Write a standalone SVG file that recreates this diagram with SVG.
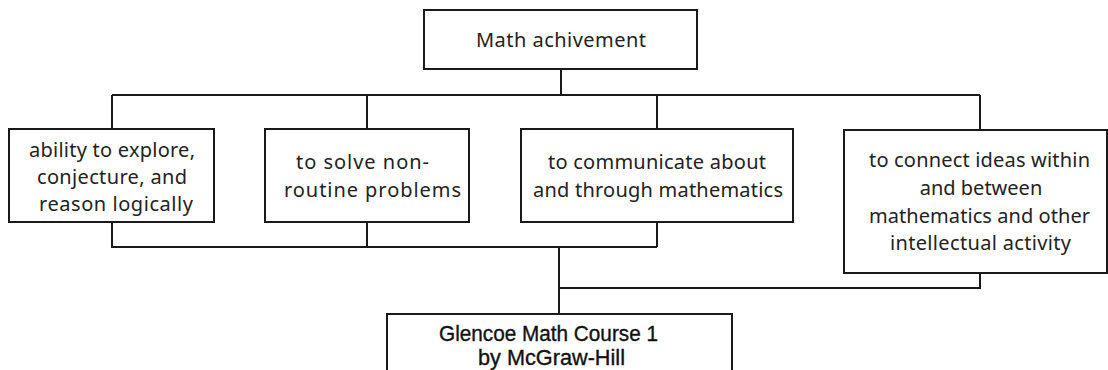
<svg xmlns="http://www.w3.org/2000/svg" width="1108" height="370" viewBox="0 0 1108 370">
<style>
.box{fill:#fff;stroke:#1a1a1a;stroke-width:2}
.t{font-family:"Noto Sans","Open Sans",sans-serif;font-size:20px;fill:#222}
.b{font-family:"Liberation Sans",Arial,sans-serif;font-size:21.5px;fill:#111;stroke:#111;stroke-width:0.35}
.c{fill:none;stroke:#1a1a1a;stroke-width:2}
</style>
<rect width="1108" height="370" fill="#fff"/>
<g id="connectors">
<path class="c" d="M561 69V95M112 95H980M112 95V129M367 95V129M657 95V129M980 95V130"/>
<path class="c" d="M112 222V247H657M367 222V247M657 222V247"/>
<path class="c" d="M980 273V288H559"/>
<path class="c" stroke-width="2.5" d="M559 247V314"/>
</g>
<g id="n-top">
<rect class="box" x="424" y="10" width="273" height="59"/>
<text class="t" x="476" y="47" font-size="21" textLength="170" lengthAdjust="spacing">Math achivement</text>
</g>
<g id="n-explore">
<rect class="box" x="9" y="129" width="205" height="93"/>
<text class="t" x="29" y="157" textLength="166" lengthAdjust="spacing">ability to explore,</text>
<text class="t" x="37" y="184" textLength="150" lengthAdjust="spacing">conjecture, and</text>
<text class="t" x="39" y="211" textLength="154" lengthAdjust="spacing">reason logically</text>
</g>
<g id="n-solve">
<rect class="box" x="265" y="129" width="204" height="93"/>
<text class="t" x="296" y="169" textLength="133" lengthAdjust="spacing">to solve non-</text>
<text class="t" x="284" y="197" textLength="177" lengthAdjust="spacing">routine problems</text>
</g>
<g id="n-communicate">
<rect class="box" x="521" y="129" width="272" height="93"/>
<text class="t" x="548" y="169" textLength="218" lengthAdjust="spacing">to communicate about</text>
<text class="t" x="533" y="197" textLength="250" lengthAdjust="spacing">and through mathematics</text>
</g>
<g id="n-connect">
<rect class="box" x="844" y="130" width="263" height="143"/>
<text class="t" x="869" y="167" textLength="221" lengthAdjust="spacing">to connect ideas within</text>
<text class="t" x="981" y="195" text-anchor="middle">and between</text>
<text class="t" x="869" y="223" textLength="221" lengthAdjust="spacing">mathematics and other</text>
<text class="t" x="890" y="250" textLength="181" lengthAdjust="spacing">intellectual activity</text>
</g>
<g id="n-glencoe">
<rect class="box" x="387" y="314" width="345" height="70"/>
<text class="b" x="439" y="341" textLength="219" lengthAdjust="spacingAndGlyphs">Glencoe Math Course 1</text>
<text class="b" x="478" y="365" textLength="147" lengthAdjust="spacingAndGlyphs">by McGraw-Hill</text>
</g>
</svg>
